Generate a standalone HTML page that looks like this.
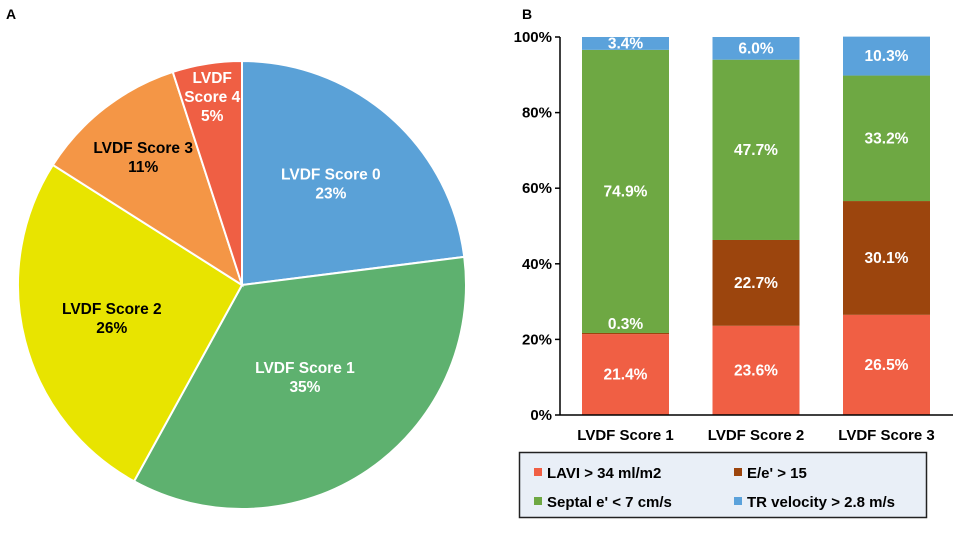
<!DOCTYPE html>
<html><head><meta charset="utf-8"><style>
body{margin:0;background:#fff;}
svg text{font-family:"Liberation Sans",Arial,sans-serif;font-weight:bold;}
</style></head><body>
<svg id="fig" width="957" height="538" viewBox="0 0 957 538" xmlns="http://www.w3.org/2000/svg">
<text x="6" y="19" font-size="14">A</text>
<text x="522" y="19" font-size="14">B</text>
<g id="pie"></g>
<g id="bars"></g>
<g id="barlabels"></g>
<g>
<rect x="519.5" y="452.5" width="407" height="65" fill="#e9eff7" stroke="#222" stroke-width="1.5"/>
<rect x="534" y="468" width="8" height="8" fill="#f05f44"/>
<text x="547" y="478" font-size="15">LAVI &gt; 34 ml/m2</text>
<rect x="734" y="468" width="8" height="8" fill="#9c450d"/>
<text x="747" y="478" font-size="15">E/e' &gt; 15</text>
<rect x="534" y="497" width="8" height="8" fill="#6ea843"/>
<text x="547" y="507" font-size="15">Septal e' &lt; 7 cm/s</text>
<rect x="734" y="497" width="8" height="8" fill="#5ba2db"/>
<text x="747" y="507" font-size="15">TR velocity &gt; 2.8 m/s</text>
</g>
</svg>
<script>
const NS="http://www.w3.org/2000/svg";
// Pie data
const pieLabels=[["LVDF Score 0"],["LVDF Score 1"],["LVDF Score 2"],["LVDF Score 3"],["LVDF","Score 4"]];
const pieValues=[23,35,26,11,5];
const pieColors=["#5aa1d7","#5eb16f","#e8e400","#f49646","#ef5f44"];
const pieTextColors=["#fff","#fff","#000","#000","#fff"];
const pieLabelR=[0.6,0.5,0.6,0.72,0.85];
// Bar data
const barCats=["LVDF Score 1","LVDF Score 2","LVDF Score 3"];
const lavi=[21.4,23.6,26.5];
const ee=[0.3,22.7,30.1];
const septal=[74.9,47.7,33.2];
const tr=[3.4,6.0,10.3];
const yTicks=[0,20,40,60,80,100];
const seriesColors=["#f05f44","#9c450d","#6ea843","#5ba2db"];

function mk(tag,attrs,parent){const e=document.createElementNS(NS,tag);for(const k in attrs)e.setAttribute(k,attrs[k]);parent.appendChild(e);return e;}

// Pie
const pie=document.getElementById('pie');
const cx=242,cy=285,R=224;
const tot=pieValues.reduce((a,b)=>a+b,0);
let acc=0;
pieValues.forEach((v,i)=>{
  const a0=acc/tot*2*Math.PI, a1=(acc+v)/tot*2*Math.PI; acc+=v;
  const p=(a)=>[cx+R*Math.sin(a),cy-R*Math.cos(a)];
  const [x0,y0]=p(a0),[x1,y1]=p(a1);
  const large=(a1-a0)>Math.PI?1:0;
  const path=mk('path',{d:`M${cx},${cy} L${x0},${y0} A${R},${R} 0 ${large} 1 ${x1},${y1} Z`,fill:pieColors[i],stroke:'#fff','stroke-width':2},pie);
  
  
  const am=(a0+a1)/2, lr=R*pieLabelR[i];
  const lx=cx+lr*Math.sin(am), ly=cy-lr*Math.cos(am);
  const lines=pieLabels[i].concat([v+"%"]);
  const t=mk('text',{x:lx,'text-anchor':'middle','font-size':15.5,fill:pieTextColors[i]},pie);
  
  
  lines.forEach((ln,j)=>{const ts=mk('tspan',{x:lx,y:ly+(j-(lines.length-1)/2)*19+5},t);ts.textContent=ln;});
});

// Bars
const bars=document.getElementById('bars');
const labs=document.getElementById('barlabels');
const x0=560, yB=415, yT=37, bw=87;
const ys=v=>yB-(v/100)*(yB-yT);
const xc=i=>625.5+i*130.5;
yTicks.forEach(t=>{
  const y=ys(t);
  const tk=mk('line',{x1:x0-5,x2:x0,y1:y,y2:y,stroke:'#000','stroke-width':1.5},bars);
   
  const tl=mk('text',{x:x0-8,y:y+5,'text-anchor':'end','font-size':15},bars);
  tl.textContent=t+"%";
   
});
const series=[lavi,ee,septal,tr];
const snames=['lavi','ee','septal','tr'];
barCats.forEach((c,i)=>{
  let base=0;
  series.forEach((s,k)=>{
    const v=s[i];
    const yt=ys(base+v), yb=ys(base);
    const r=mk('rect',{x:xc(i)-bw/2,y:yt,width:bw,height:Math.max(yb-yt,0.5),fill:seriesColors[k]},bars);
    
    
    let ly=(yt+yb)/2+5;
    if(v<2) ly=yt-4;
    const tl=mk('text',{x:xc(i),y:ly,'text-anchor':'middle','font-size':15.5,fill:'#fff'},labs);
    tl.textContent=v.toFixed(1)+"%";
    
    
    base+=v;
  });
  const xl=mk('text',{x:xc(i),y:440,'text-anchor':'middle','font-size':15},bars);
  xl.textContent=c;
  
  
});
const ax=mk('line',{x1:x0,x2:x0,y1:yT,y2:yB,stroke:'#000','stroke-width':1.5},bars);
 
const bx=mk('line',{x1:x0,x2:953,y1:yB,y2:yB,stroke:'#000','stroke-width':1.5},bars);
 
</script>
</body></html>
